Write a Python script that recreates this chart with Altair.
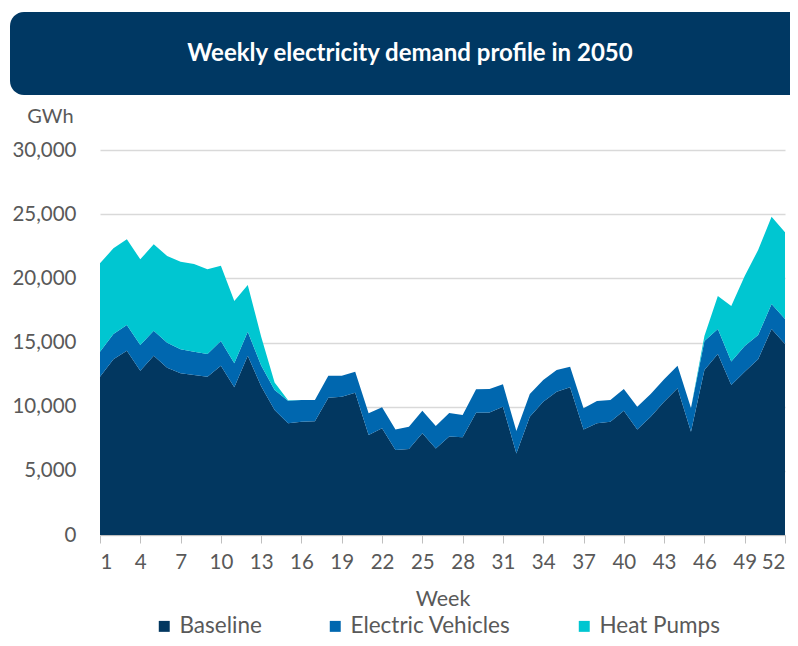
import altair as alt
import pandas as pd

weeks = list(range(1, 53))
baseline = [12340, 13690, 14360, 12800, 13970, 13040, 12600, 12470, 12340, 13190,
            11510, 13970, 11600, 9740, 8700, 8830, 8870, 10700, 10780, 11090,
            7790, 8310, 6620, 6700, 7920, 6750, 7680, 7610, 9530, 9550,
            10000, 6360, 9220, 10390, 11170, 11510, 8230, 8700, 8830, 9680,
            8230, 9220, 10390, 11430, 8050, 12860, 14100, 11690, 12730, 13690,
            16050, 14880]
electric_vehicles = [1940, 1970, 2000, 2000, 1950, 1950, 1870, 1810, 1760, 1930,
                     1870, 1870, 1600, 1550, 1770, 1690, 1650, 1710, 1630, 1640,
                     1690, 1640, 1610, 1740, 1770, 1740, 1820, 1740, 1820, 1830,
                     1740, 1740, 1770, 1690, 1690, 1610, 1640, 1740, 1690, 1690,
                     1770, 1770, 1740, 1760, 1850, 2250, 1950, 1820, 2000, 1890,
                     1950, 1950]
heat_pumps = [6890, 6680, 6680, 6680, 6730, 6750, 6830, 6840, 6600, 5870,
              4850, 3640, 2250, 600, 30, 0, 0, 0, 0, 0,
              0, 0, 0, 0, 0, 0, 0, 0, 0, 0,
              0, 0, 0, 0, 0, 0, 0, 0, 0, 0,
              0, 0, 0, 0, 0, 400, 2570, 4330, 5450, 6630,
              6800, 6760]

series_names = ["Baseline", "Electric Vehicles", "Heat Pumps"]
series_colors = ["#023760", "#0067AF", "#00C6D1"]
y_ticks = [0, 5000, 10000, 15000, 20000, 25000, 30000]
x_ticks = list(range(1, 53, 3))
title_text = "Weekly electricity demand profile in 2050"

rows = []
for k, (name, vals) in enumerate(zip(series_names, [baseline, electric_vehicles, heat_pumps])):
    for w, v in zip(weeks, vals):
        rows.append({"Week": w, "GWh": v, "Series": name, "k": k})
df = pd.DataFrame(rows)

FONT = "Lato"
GREY = "#595959"

area = alt.Chart(df).mark_area(interpolate="linear").encode(
    x=alt.X("Week:Q",
            scale=alt.Scale(domain=[1, 52], nice=False, zero=False),
            axis=alt.Axis(values=x_ticks, title="Week", grid=False,
                          domainColor="#bfbfbf", tickColor="#bfbfbf", tickSize=8,
                          labelFontSize=20.5, labelColor=GREY, labelFont=FONT,
                          labelPadding=9, titleFontSize=21.5, titleColor=GREY,
                          titleFont=FONT, titleFontWeight="normal", titlePadding=16)),
    y=alt.Y("GWh:Q", stack="zero",
            scale=alt.Scale(domain=[0, 30000], nice=False),
            axis=alt.Axis(values=y_ticks, format=",d", title="GWh",
                          domain=False, ticks=False, tickSize=0,
                          gridColor="#d9d9d9", gridWidth=1.3,
                          labelFontSize=20.5, labelColor=GREY, labelFont=FONT,
                          labelPadding=24,
                          titleAngle=0, titleX=-50, titleY=-34,
                          titleAlign="center", titleBaseline="middle",
                          titleFontSize=20, titleColor=GREY, titleFont=FONT,
                          titleFontWeight="normal")),
    color=alt.Color("Series:N",
                    scale=alt.Scale(domain=series_names, range=series_colors),
                    sort=series_names,
                    legend=alt.Legend(title=None, orient="none", direction="horizontal",
                                      legendX=53, legendY=465,
                                      symbolType="square", symbolSize=120,
                                      symbolStrokeWidth=0, labelFontSize=22.5,
                                      labelColor=GREY, labelFont=FONT,
                                      labelLimit=400,
                                      labelOffset=4, columnPadding=62)),
    order=alt.Order("k:Q", sort="ascending"),
)

one = alt.Data(values=[{"a": 1}])
banner = alt.Chart(one).mark_rect(color="#003863", cornerRadius=14).encode(
    x=alt.value(-90), x2=alt.value(710), y=alt.value(-138), y2=alt.value(-55)
)
title = alt.Chart(one).mark_text(
    color="white", font=FONT, fontSize=24, fontWeight="bold",
    align="center", baseline="middle"
).encode(x=alt.value(310), y=alt.value(-96), text=alt.value(title_text))

chart = alt.layer(banner, title, area).properties(
    width=685, height=385,
    autosize=alt.AutoSizeParams(type="none"),
    padding={"left": 92, "top": 142, "right": 5, "bottom": 103},
).configure_view(stroke=None)

chart.save("out.html", embed_options={"renderer": "svg", "actions": False})
